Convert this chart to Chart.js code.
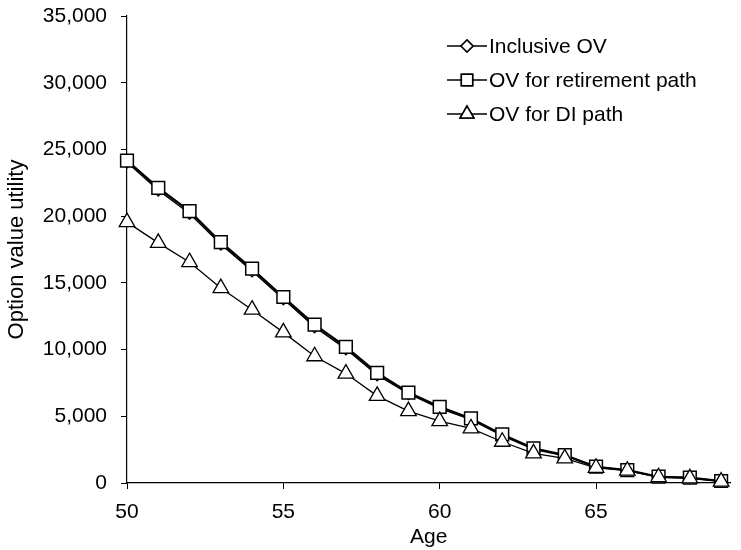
<!DOCTYPE html>
<html>
<head>
<meta charset="utf-8">
<script src="https://cdn.jsdelivr.net/npm/chart.js@4.4.0/dist/chart.umd.min.js"></script>
<style>
  html, body { margin: 0; padding: 0; background: #fff; }
  #wrap { width: 741px; height: 550px; }
</style>
</head>
<body>
<div id="wrap"><canvas id="ovChart" width="741" height="550"></canvas></div>
<script>
// data
var ages = [50, 51, 52, 53, 54, 55, 56, 57, 58, 59, 60, 61, 62, 63, 64, 65, 66, 67, 68, 69];
var inclusiveOV = [24050, 21950, 20200, 17900, 15900, 13800, 11700, 10050, 8100, 6700, 5600, 4750, 3550, 2520, 2050, 1200, 950, 460, 390, 140];
var retirementOV = [24160, 22120, 20370, 18050, 16060, 13940, 11870, 10200, 8250, 6780, 5710, 4840, 3640, 2600, 2090, 1220, 970, 470, 400, 150];
var diOV = [19550, 18000, 16550, 14610, 12990, 11290, 9500, 8200, 6530, 5390, 4640, 4090, 3090, 2220, 1850, 1140, 920, 430, 350, 100];
var xTicks = [50, 55, 60, 65];
var seriesNames = ["Inclusive OV", "OV for retirement path", "OV for DI path"];

function toPoints(vals) {
  return ages.map(function (a, i) { return { x: a, y: vals[i] }; });
}

var font = "'Liberation Sans', Arial, sans-serif";

// simple legend drawn in the plot, like the original
var legendPlugin = {
  id: 'boxLegend',
  afterDraw: function (chart) {
    var ctx = chart.ctx;
    var rows = [46, 80, 114];
    ctx.save();
    chart.data.datasets.forEach(function (ds, i) {
      var y = rows[i];
      ctx.strokeStyle = '#000';
      ctx.lineWidth = 1.5;
      ctx.beginPath();
      ctx.moveTo(447, y);
      ctx.lineTo(487, y);
      ctx.stroke();
      Chart.helpers.drawPoint(ctx, {
        pointStyle: ds.pointStyle,
        radius: ds.legendRadius,
        borderWidth: 1.5
      }, 467, y);
      ctx.fillStyle = '#fff';
      ctx.fill();
      ctx.stroke();
      ctx.fillStyle = '#000';
      ctx.font = '21px ' + font;
      ctx.textBaseline = 'middle';
      ctx.fillText(ds.label, 489, y + 1);
    });
    ctx.restore();
  }
};

var ctx = document.getElementById('ovChart').getContext('2d');
var ovChart = new Chart(ctx, {
  type: 'line',
  data: {
    datasets: [{
      label: seriesNames[0],
      data: toPoints(inclusiveOV),
      borderColor: '#000',
      borderWidth: 1.5,
      pointStyle: 'rectRot',
      pointRadius: 6,
      legendRadius: 6,
      pointBackgroundColor: '#fff',
      pointBorderColor: '#000',
      pointBorderWidth: 1.2,
      clip: false,
      order: 3
    }, {
      label: seriesNames[1],
      data: toPoints(retirementOV),
      borderColor: '#000',
      borderWidth: 2.2,
      pointStyle: 'rect',
      pointRadius: 9,
      legendRadius: 8,
      pointBackgroundColor: '#fff',
      pointBorderColor: '#000',
      pointBorderWidth: 1.5,
      clip: false,
      order: 2
    }, {
      label: seriesNames[2],
      data: toPoints(diOV),
      borderColor: '#000',
      borderWidth: 1.3,
      pointStyle: 'triangle',
      pointRadius: 9,
      legendRadius: 8,
      pointBackgroundColor: '#fff',
      pointBorderColor: '#000',
      pointBorderWidth: 1.3,
      clip: false,
      order: 1
    }]
  },
  options: {
    responsive: false,
    animation: false,
    layout: { padding: { top: 16, right: 0, left: 4, bottom: 0 } },
    plugins: {
      legend: { display: false },
      tooltip: { enabled: false }
    },
    scales: {
      x: {
        type: 'linear',
        min: 50,
        max: 69.3,
        afterBuildTicks: function (scale) {
          scale.ticks = xTicks.map(function (v) { return { value: v }; });
        },
        afterFit: function (scale) { scale.height = 67; },
        grid: { drawOnChartArea: false, color: '#000', tickLength: 6, lineWidth: 1 },
        border: { color: '#000', width: 1.2 },
        ticks: { color: '#000', font: { family: font, size: 21 }, padding: 11, maxRotation: 0 },
        title: { display: true, text: 'Age', color: '#000', font: { family: font, size: 21 }, padding: { top: 0, bottom: 0 } }
      },
      y: {
        min: 0,
        max: 35000,
        afterFit: function (scale) {
          scale.width = 123;
          scale.paddingTop = 0;
          scale.paddingBottom = 0;
        },
        ticks: {
          stepSize: 5000,
          color: '#000',
          font: { family: font, size: 21 },
          padding: 14,
          callback: function (v) { return v.toLocaleString('en-US'); }
        },
        grid: { drawOnChartArea: false, color: '#000', tickLength: 6, lineWidth: 1 },
        border: { color: '#000', width: 1.2 },
        title: { display: true, text: 'Option value utility', color: '#000', font: { family: font, size: 22 }, padding: { top: 0, bottom: 8 } }
      }
    }
  },
  plugins: [legendPlugin]
});
</script>
</body>
</html>
